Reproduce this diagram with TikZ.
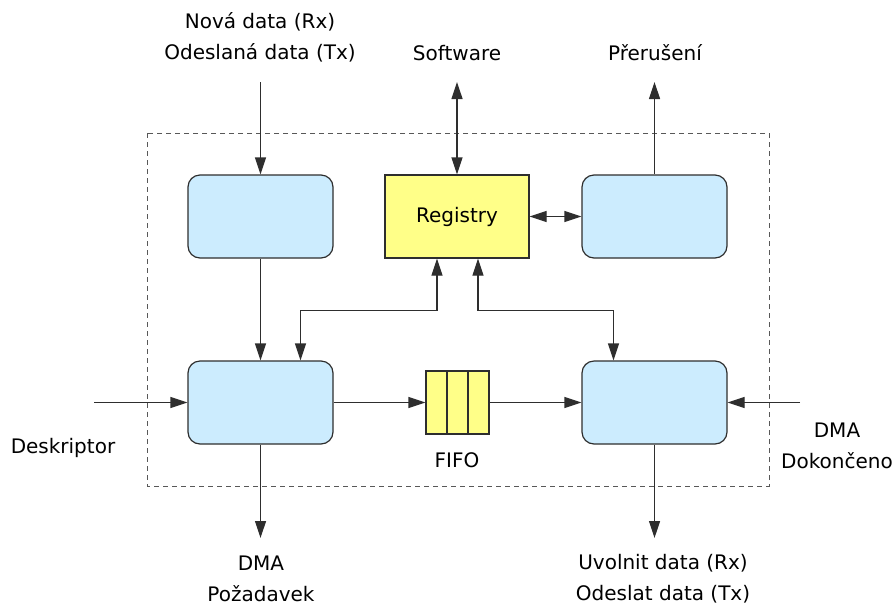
\documentclass[tikz,border=0pt]{standalone}
\usepackage{fontspec}
\setmainfont{DejaVu Sans}
\usetikzlibrary{arrows.meta}
\definecolor{blockblue}{HTML}{CCECFE}
\definecolor{regyellow}{HTML}{FFFF88}
\definecolor{edgegray}{HTML}{2E2E2E}
\tikzset{
  every node/.style={font=\fontsize{20}{31}\selectfont, text=black},
  block/.style={draw=edgegray, line width=1.2pt, fill=blockblue, rounded corners=12pt,
    minimum width=145pt, minimum height=83pt, inner sep=0pt},
  regbox/.style={draw=edgegray, line width=1.2pt, fill=regyellow,
    minimum width=144pt, minimum height=83pt, inner sep=0pt},
  fifobox/.style={draw=edgegray, line width=1.2pt, fill=regyellow,
    minimum width=63pt, minimum height=63pt, inner sep=0pt},
  lbl/.style={align=center, inner sep=0pt},
  tip/.style={-{Triangle[length=17pt,width=11pt]}},
  wire/.style={draw=edgegray, line width=1.2pt},
  arr/.style={wire, tip},
  darr/.style={wire, {Triangle[length=17pt,width=11pt]}-{Triangle[length=17pt,width=11pt]}},
}
\begin{document}
\begin{tikzpicture}[x=1pt, y=-1pt]
\useasboundingbox (0,0) rectangle (896,606);

% module boundary
\draw[draw=edgegray!80, line width=0.9pt, dash pattern=on 5pt off 4pt] (147,133) rectangle (769,486);

% functional blocks
\node[block] (inblk) at (260.5,216.5) {};
\node[regbox] (reg) at (457,216.5) {Registry};
\node[block] (irqblk) at (654.5,216.5) {};
\node[block] (dmablk) at (260.5,402.5) {};
\node[fifobox] (fifo) at (457.5,402.5) {};
\node[block] (outblk) at (654.5,402.5) {};
\draw[wire] ([xshift=-10.5pt]fifo.north) -- ([xshift=-10.5pt]fifo.south);
\draw[wire] ([xshift=10.5pt]fifo.north) -- ([xshift=10.5pt]fifo.south);

% external signals
\node[lbl] (newdata) at (260,37.5) {Nová data (Rx)\\Odeslaná data (Tx)};
\node[lbl] (sw) at (457,53) {Software};
\node[lbl] (irq) at (655,53) {Přerušení};
\node[lbl] (fifolbl) at (457,460) {FIFO};
\node[lbl] (desc) at (63,448) {Deskriptor};
\node[lbl] (dmadone) at (837,446) {DMA\\Dokončeno};
\node[lbl] (dmareq) at (261,579) {DMA\\Požadavek};
\node[lbl] (release) at (663,579) {Uvolnit data (Rx)\\Odeslat data (Tx)};

\coordinate (inTop) at (260.5,82);
\coordinate (swTop) at (457,82);
\coordinate (irqTop) at (654.5,82);
\coordinate (descIn) at (94,402.5);
\coordinate (doneIn) at (800,402.5);
\coordinate (reqOut) at (260.5,538);
\coordinate (relOut) at (654.5,538);

% connectors
\draw[arr] (inTop) -- (inblk.north);
\draw[darr] (swTop) -- (reg.north);
\draw[arr] (irqblk.north) -- (irqTop);
\draw[darr] (reg.east) -- (irqblk.west);
\draw[arr] (inblk.south) -- (dmablk.north);
\draw[darr] ([xshift=-20pt]reg.south) -- ++(0,52) -| ([xshift=40pt]dmablk.north);
\draw[darr] ([xshift=21pt]reg.south) -- ++(0,52) -| ([xshift=-41pt]outblk.north);
\draw[arr] (dmablk.east) -- (fifo.west);
\draw[arr] (fifo.east) -- (outblk.west);
\draw[arr] (descIn) -- (dmablk.west);
\draw[arr] (doneIn) -- (outblk.east);
\draw[arr] (dmablk.south) -- (reqOut);
\draw[arr] (outblk.south) -- (relOut);
\end{tikzpicture}
\end{document}
